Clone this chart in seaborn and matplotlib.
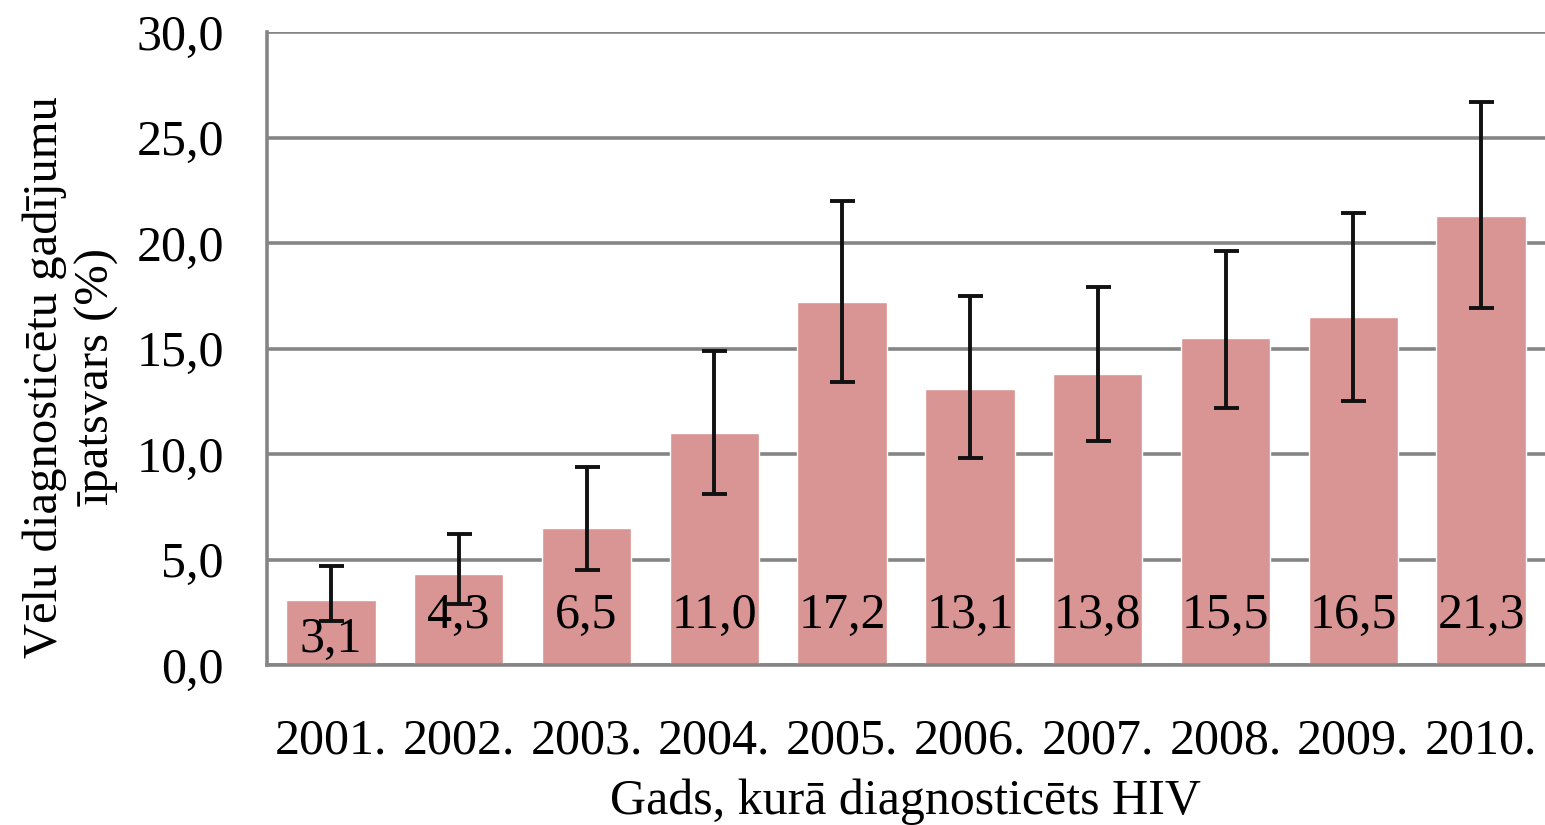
import matplotlib
matplotlib.use("Agg")
import matplotlib.pyplot as plt
import seaborn as sns
import pandas as pd
import numpy as np

years = ["2001.", "2002.", "2003.", "2004.", "2005.", "2006.", "2007.", "2008.", "2009.", "2010."]
values = [3.1, 4.3, 6.5, 11.0, 17.2, 13.1, 13.8, 15.5, 16.5, 21.3]
err_low = [2.1, 2.9, 4.5, 8.1, 13.4, 9.8, 10.6, 12.2, 12.5, 16.9]
err_high = [4.7, 6.2, 9.4, 14.9, 22.0, 17.5, 17.9, 19.6, 21.4, 26.7]
labels = ["3,1", "4,3", "6,5", "11,0", "17,2", "13,1", "13,8", "15,5", "16,5", "21,3"]
yticks = [0, 5, 10, 15, 20, 25, 30]
ytick_labels = ["0,0", "5,0", "10,0", "15,0", "20,0", "25,0", "30,0"]

df = pd.DataFrame({"year": years, "value": values})

sns.set_theme(style="white")
plt.rcParams["font.family"] = ["Liberation Serif", "DejaVu Serif"]
plt.rcParams["text.color"] = "black"
plt.rcParams["xtick.color"] = "black"
plt.rcParams["ytick.color"] = "black"
plt.rcParams["axes.labelcolor"] = "black"

fig = plt.figure(figsize=(15.45, 8.25), dpi=100)
ax = fig.add_axes([267 / 1545, 1 - 665 / 825, 1 - 267 / 1545, (665 - 32) / 825])

grid_c = "#858585"
sns.barplot(data=df, x="year", y="value", color="#D99594", saturation=1,
            width=0.7, errorbar=None, ax=ax, zorder=2)

x = np.arange(len(years))
vals = np.array(values)
ax.errorbar(x, vals, yerr=[vals - np.array(err_low), np.array(err_high) - vals],
            fmt="none", ecolor="#111111", elinewidth=2.8, capsize=9, capthick=2.8, zorder=3)

for i, lab in enumerate(labels):
    ypos = 1.2 if vals[i] < 4 else 2.35
    ax.text(i, ypos, lab, ha="center", va="center", fontsize=36, color="black", zorder=4)

ax.set_ylim(0, 30)
ax.set_xlim(-0.5, -0.5 + (1545 - 267) / 129)
ax.set_yticks(yticks)
ax.set_yticklabels(ytick_labels, fontsize=36)
ax.yaxis.grid(True, color=grid_c, linewidth=2.6, zorder=0)
ax.set_axisbelow(True)

ax.set_xticks(x)
ax.set_xticklabels(years, fontsize=36)
ax.set_xticks(np.arange(-0.5, len(years) + 0.5, 1), minor=True)
ax.tick_params(axis="x", which="major", length=0, pad=38, colors="black")
ax.tick_params(axis="x", which="minor", length=9, width=2.2, color=grid_c, direction="out")
ax.tick_params(axis="y", length=11, width=2.2, color=grid_c, labelcolor="black", pad=20, direction="out")

for s in ["top", "right"]:
    ax.spines[s].set_visible(False)
for s in ["left", "bottom"]:
    ax.spines[s].set_color(grid_c)
    ax.spines[s].set_linewidth(2.6)

ax.set_xlabel("Gads, kurā diagnosticēts HIV", fontsize=36, labelpad=10)
ax.set_ylabel("Vēlu diagnosticētu gadījumu\nīpatsvars (%)", fontsize=35, linespacing=1.25)
ax.yaxis.set_label_coords(-0.115, 0.455)

fig.savefig("out.png", dpi=100)
